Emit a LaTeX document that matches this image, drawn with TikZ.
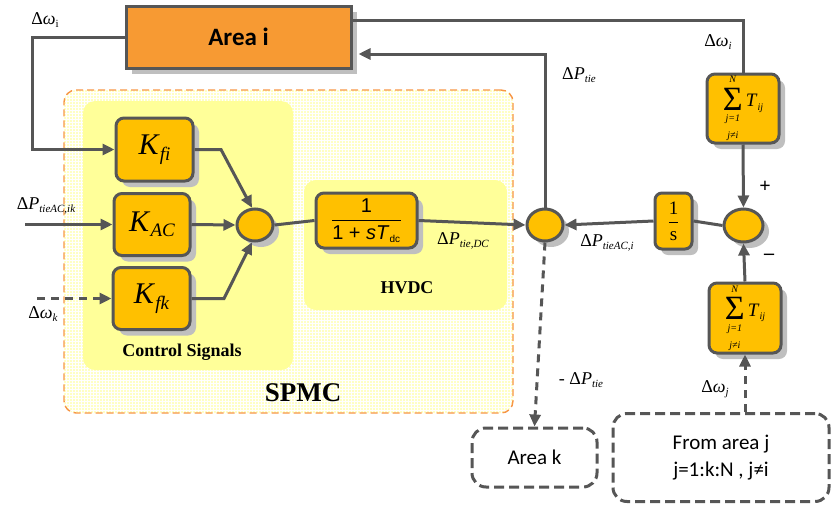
\RequirePackage{fix-cm}
\documentclass[tikz,border=0pt]{standalone}
\usepackage{amsmath}
\usepackage{fontspec}
\setmainfont{Liberation Serif}
\newfontfamily\calib{Carlito}
\newfontfamily\arialf{Liberation Sans}
\usetikzlibrary{shapes.geometric,arrows.meta,patterns,calc}
\definecolor{edge}{HTML}{565656}
\definecolor{blockfill}{HTML}{FFC000}
\definecolor{areafill}{HTML}{F79A33}
\definecolor{shade}{HTML}{BFBFBF}
\definecolor{spmcfill}{HTML}{FFFFC4}
\definecolor{panelfill}{HTML}{FFFF99}
\definecolor{spmcedge}{HTML}{F79646}
% lowered subscripts in Times-like text
\newcommand\lsub[2][11]{\raisebox{-0.4ex}{\fontsize{#1}{#1}\selectfont\itshape #2}}
\newcommand\rsub[2][11]{\raisebox{-0.4ex}{\fontsize{#1}{#1}\selectfont #2}}
% stacked sum of synchronising coefficients
\newcommand\sumTij{%
  \shortstack{{\fontsize{10}{10}\selectfont\itshape N}\\[2pt]
              {\fontsize{34}{34}\selectfont Σ}\\[2pt]
              {\fontsize{10}{10}\selectfont\itshape j=1}\\[5pt]
              {\fontsize{10}{10}\selectfont\itshape j≠i}}%
  \raisebox{32pt}{\fontsize{19}{19}\selectfont\,\textit{T}\lsub[10]{ij}}}
\begin{document}
\begin{tikzpicture}[x=1pt,y=-1pt,
  shadowed/.style={preaction={fill=shade,transform canvas={shift={(6pt,-6pt)}}}},
  block/.style={shadowed,draw=edge,line width=3pt,fill=blockfill,rounded corners=8pt,inner sep=0pt},
  sumnode/.style={shadowed,ellipse,draw=edge,line width=3pt,fill=blockfill,inner sep=0pt},
  panel/.style={fill=panelfill,rounded corners=12pt,inner sep=0pt},
  dashbox/.style={draw=edge,line width=3pt,dash pattern=on 10pt off 5pt,rounded corners=14pt,inner sep=0pt,align=center,font=\calib\fontsize{21}{27}\selectfont},
  wire/.style={draw=edge,line width=3pt},
  arr/.style={wire,-{Triangle[length=12pt,width=11pt]}},
  dwire/.style={wire,dash pattern=on 8pt off 6pt},
  darr/.style={dwire,-{Triangle[length=12pt,width=11pt]}},
  lab/.style={inner sep=0pt,font=\fontsize{18}{20}\selectfont},
  kfont/.style={font=\fontsize{30}{32}\selectfont},
  panellabel/.style={inner sep=0pt,font=\bfseries\fontsize{18}{20}\selectfont}
]
\useasboundingbox (0,0) rectangle (831,509);

% SPMC region with its two inner panels
\node[preaction={fill=spmcfill},preaction={pattern=grid,pattern color=white},
      draw=spmcedge,line width=1.4pt,dash pattern=on 7pt off 4pt,rounded corners=12pt,
      minimum width=449pt,minimum height=323pt,inner sep=0pt] (spmc) at (288.5,251.5) {};
\node[panel,minimum width=210pt,minimum height=269pt] (ctrlpanel) at (188,235.5) {};
\node[panel,minimum width=203pt,minimum height=130pt] (hvdcpanel) at (405.5,245) {};
\node[panellabel] (ctrltext) at (182,352) {Control Signals};
\node[panellabel] (hvdctext) at (407,288) {HVDC};
\node[inner sep=0pt,font=\bfseries\fontsize{27}{30}\selectfont] (spmctext) at (303,393) {SPMC};

% Area i
\node[shadowed,draw=edge,line width=3pt,fill=areafill,minimum width=225pt,minimum height=62pt,inner sep=0pt,
      font=\calib\bfseries\fontsize{25}{28}\selectfont] (areai) at (238.5,37) {Area i};

% gain blocks
\node[block,kfont,minimum width=77pt,minimum height=63pt] (kfi) at (154.5,149.5) {\textit{K}\lsub[19]{fi}};
\node[block,kfont,minimum width=76pt,minimum height=62pt] (kac) at (152,224.5) {\textit{K}\lsub[19]{AC}};
\node[block,kfont,minimum width=77pt,minimum height=62pt] (kfk) at (151.5,298.5) {\textit{K}\lsub[19]{fk}};

% summing junctions
\node[sumnode,minimum width=36pt,minimum height=32pt] (sum1) at (255,225) {};
\node[sumnode,minimum width=36pt,minimum height=32pt] (sum2) at (545,225) {};
\node[sumnode,minimum width=39pt,minimum height=33pt] (sum3) at (743.5,225.5) {};

% HVDC transfer function
\node[block,minimum width=101pt,minimum height=55pt,font=\arialf\fontsize{20}{22}\selectfont] (hvdc) at (366.5,220.5)
  {$\displaystyle\frac{\mbox{1}}{\mbox{1 + \textit{sT}}_{\mbox{\fontsize{10}{10}\selectfont dc}}}$};

% integrator
\node[block,minimum width=37pt,minimum height=56pt,rounded corners=7pt,font=\fontsize{19}{21}\selectfont] (integ) at (673.5,221)
  {$\displaystyle\frac{\mbox{1}}{\mbox{s}}$};

% synchronising coefficient sums
\node[block,minimum width=72pt,minimum height=69pt] (sumtop) at (743,108.5) {\sumTij};
\node[block,minimum width=72pt,minimum height=70pt] (sumbot) at (745,318) {\sumTij};

% neighbouring areas
\node[dashbox,minimum width=125pt,minimum height=59pt] (areak) at (534.5,457.5) {Area k};
\node[dashbox,minimum width=216pt,minimum height=88pt] (fromj) at (721,457.5) {From area j\\ j=1:k:N , j≠i};

% free ends of the inputs and bends
\coordinate (inac) at (25,224.5);
\coordinate (inwk) at (37,298.5);
\coordinate (bendfi) at (221,149.5);
\coordinate (bendfk) at (224,298.5);
\coordinate (leftrail) at (32,37);

% connectors
\draw[arr] (areai.west) -- (leftrail) |- (kfi.west);
\draw[arr] (inac) -- (kac.west);
\draw[darr] (inwk) -- (kfk.west);
\draw[arr] (kfi.east) -- (bendfi) -- (sum1.100);
\draw[arr] (kac.east) -- (sum1.west);
\draw[arr] (kfk.east) -- (bendfk) -- (sum1.260);
\draw[wire] (sum1.east) -- (hvdc.west);
\draw[arr] (hvdc.east) -- (sum2.west);
\draw[arr] (sum2.north) |- ($(areai.east)+(6,17)$);
\draw[wire] ($(areai.east)+(0,-17)$) -| (sumtop.north);
\draw[arr] (sumtop.south) -- (sum3.north);
\draw[arr] (sumbot.north) -- (sum3.south);
\draw[wire] (sum3.west) -- (integ.east);
\draw[arr] (integ.west) -- (sum2.east);
\draw[darr] (sum2.south) -- (areak.north);
\draw[darr] (sumbot.south |- fromj.north) -- (sumbot.south);

% signal labels
\node[lab] (lwi) at (45,20) {Δ\textit{ω}\rsub{i}};
\node[lab] (lwir) at (718,42) {Δ\textit{ω}\lsub{i}};
\node[lab] (lptie) at (579,75) {Δ\textit{P}\lsub{tie}};
\node[lab] (lpac) at (46,206) {Δ\textit{P}\lsub{tieAC,ik}};
\node[lab] (lwk) at (43,314) {Δ\textit{ω}\lsub{k}};
\node[lab] (lpdc) at (463,241) {Δ\textit{P}\lsub{tie,DC}};
\node[lab] (lpaci) at (607,243) {Δ\textit{P}\lsub{tieAC,i}};
\node[lab] (lmptie) at (581,380) {- Δ\textit{P}\lsub{tie}};
\node[lab] (lwj) at (715,389) {Δ\textit{ω}\lsub{j}};
\node[inner sep=0pt,font=\bfseries\fontsize{20}{22}\selectfont] (plus) at (765,187) {+};
\node[inner sep=0pt,font=\bfseries\fontsize{20}{22}\selectfont] (minus) at (769,257) {–};
\end{tikzpicture}
\end{document}
